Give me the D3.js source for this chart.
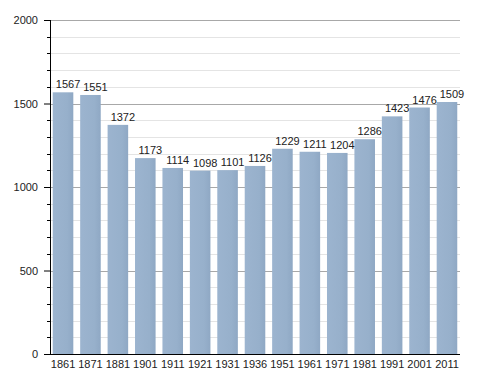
<!DOCTYPE html>
<html>
<head>
<meta charset="utf-8">
<script src="https://cdn.jsdelivr.net/npm/d3@7"></script>
<style>
  body { margin: 0; background: #fff; }
  text { font-family: "Liberation Sans", Arial, sans-serif; }
</style>
</head>
<body>
<script>
// population by census year
const years = ["1861","1871","1881","1901","1911","1921","1931","1936","1951","1961","1971","1981","1991","2001","2011"];
const population = [1567,1551,1372,1173,1114,1098,1101,1126,1229,1211,1204,1286,1423,1476,1509];
const yTicks = [0,500,1000,1500,2000];

const data = years.map((y, i) => ({year: y, value: population[i]}));

const margin = {top: 20, right: 28, bottom: 19, left: 50};
const width = 488 - margin.left - margin.right;
const height = 373 - margin.top - margin.bottom;

const svg = d3.select("body").append("svg")
    .attr("width", 488)
    .attr("height", 373)
  .append("g")
    .attr("transform", `translate(${margin.left},${margin.top})`);

const x = d3.scaleBand()
    .domain(years)
    .range([0, width])
    .paddingInner(0.25)
    .paddingOuter(0.1);

const y = d3.scaleLinear()
    .domain([0, 2000])
    .range([height, 0]);

// minor gridlines every 100
svg.append("g")
  .selectAll("line")
  .data(d3.range(100, 2001, 100).filter(d => d % 500 !== 0))
  .join("line")
    .attr("x1", 0).attr("x2", width)
    .attr("y1", d => Math.round(y(d)) + 0.5).attr("y2", d => Math.round(y(d)) + 0.5)
    .attr("stroke", "#e4e4e4");

// major gridlines
svg.append("g")
  .selectAll("line")
  .data(yTicks.filter(d => d > 0))
  .join("line")
    .attr("x1", 0).attr("x2", width)
    .attr("y1", d => Math.round(y(d)) + 0.5).attr("y2", d => Math.round(y(d)) + 0.5)
    .attr("stroke", "#a8a8a8");

// gradient for bars
const defs = svg.append("defs");
const grad = defs.append("linearGradient").attr("id", "barGrad");
grad.append("stop").attr("offset", "0%").attr("stop-color", "#9cb4cf");
grad.append("stop").attr("offset", "70%").attr("stop-color", "#97b0cb");
grad.append("stop").attr("offset", "100%").attr("stop-color", "#8fa8c4");

svg.append("g")
  .selectAll("rect")
  .data(data)
  .join("rect")
    .attr("x", d => x(d.year))
    .attr("y", d => y(d.value))
    .attr("width", x.bandwidth())
    .attr("height", d => height - y(d.value))
    .attr("fill", "url(#barGrad)");

// value labels
svg.append("g")
  .selectAll("text")
  .data(data)
  .join("text")
    .attr("x", d => x(d.year) + x.bandwidth() / 2 + 5)
    .attr("y", d => y(d.value) - 4)
    .attr("text-anchor", "middle")
    .attr("font-size", 11)
    .attr("fill", "#222")
    .text(d => d.value);

// y axis with minor ticks
const yAxis = svg.append("g")
    .call(d3.axisLeft(y).tickValues(yTicks).tickFormat(d3.format("d")).tickSize(6).tickPadding(6));
yAxis.selectAll(".tick text").attr("font-size", 11).attr("fill", "#222")
    .attr("font-family", "Liberation Sans, Arial, sans-serif");
yAxis.select(".domain").attr("d", `M0.5,0V${height}`).attr("stroke", "#000");

svg.append("g")
  .selectAll("line")
  .data(d3.range(100, 2000, 100).filter(d => d % 500 !== 0))
  .join("line")
    .attr("x1", -3).attr("x2", 0)
    .attr("y1", d => Math.round(y(d)) + 0.5).attr("y2", d => Math.round(y(d)) + 0.5)
    .attr("stroke", "#000");

// x axis
const xAxis = svg.append("g")
    .attr("transform", `translate(0,${height})`)
    .call(d3.axisBottom(x).tickSize(0).tickPadding(6));
xAxis.select(".domain").attr("d", `M0,0.5H${width}`).attr("stroke", "#000");
xAxis.selectAll(".tick text").attr("font-size", 11).attr("fill", "#222")
    .attr("font-family", "Liberation Sans, Arial, sans-serif");
</script>
</body>
</html>
